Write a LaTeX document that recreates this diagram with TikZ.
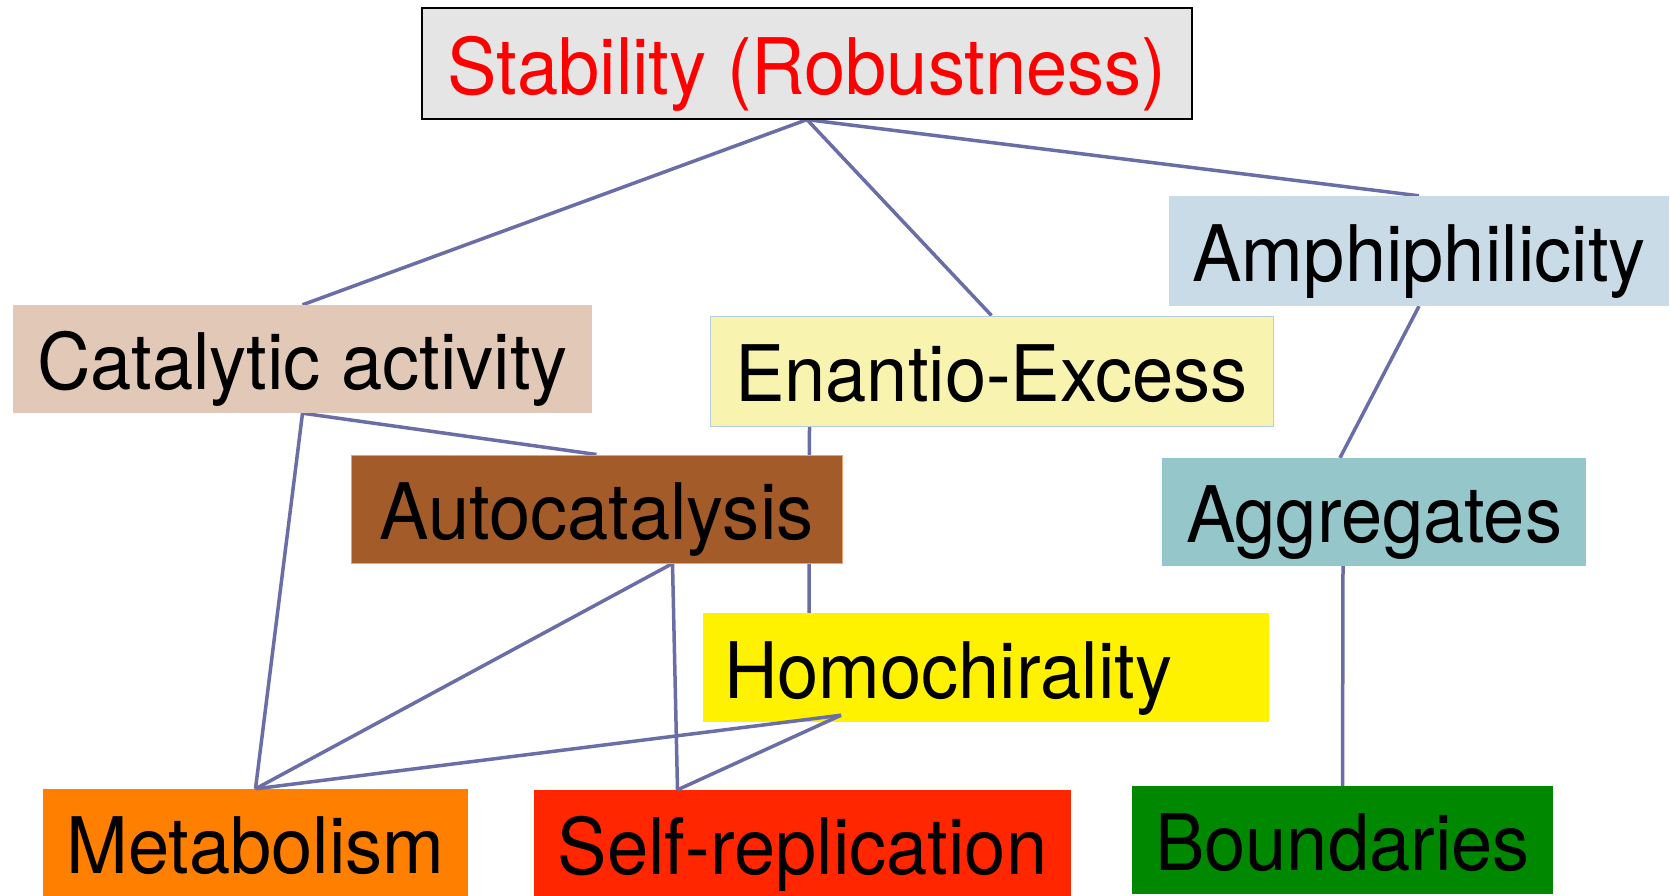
\documentclass[tikz,border=0pt]{standalone}
\usepackage{fontspec}
\newfontfamily\boxfont[FakeStretch=0.95]{TeX Gyre Heros}
\usetikzlibrary{backgrounds}

\definecolor{linkblue}{HTML}{6A6DA6}
\definecolor{stabgray}{HTML}{E5E5E5}
\definecolor{catpeach}{HTML}{E1C8B7}
\definecolor{enanyellow}{HTML}{F8F4B0}
\definecolor{enanline}{HTML}{B5CDE0}
\definecolor{amphblue}{HTML}{C9DBE7}
\definecolor{autobrown}{HTML}{A45B2A}
\definecolor{autoline}{HTML}{F0A070}
\definecolor{aggrteal}{HTML}{95C6CA}
\definecolor{metaorange}{HTML}{FF7F00}
\definecolor{selfred}{HTML}{FF2600}
\definecolor{boundgreen}{HTML}{008800}

\tikzset{
  box/.style={inner sep=0pt, text height=61pt, text depth=0pt,
    font=\boxfont\fontsize{78}{90}\selectfont},
  link/.style={draw=linkblue, line width=3.5pt}
}

\begin{document}
\begin{tikzpicture}[x=1pt, y=-1pt]
    \useasboundingbox (0,0) rectangle (1670,895);

    % Place the boxes
    \node[box, fill=stabgray, draw=black, line width=1.2pt, text=red,
          minimum width=770, minimum height=111] (stab) at (807,63.5) {Stability (Robustness)};
    \node[box, fill=catpeach, minimum width=579, minimum height=108] (cat) at (302.5,359) {Catalytic activity};
    \node[box, fill=enanyellow, draw=enanline, line width=1pt,
          minimum width=563, minimum height=110] (enan) at (991.5,371) {Enantio-Excess};
    \node[box, fill=amphblue, minimum width=500, minimum height=110] (amph) at (1419,251) {Amphiphilicity};
    \node[box, fill=autobrown, draw=autoline, line width=1pt,
          minimum width=491, minimum height=108] (auto) at (596.5,509) {Autocatalysis};
    \node[box, fill=aggrteal, minimum width=424, minimum height=108] (aggr) at (1374,512) {Aggregates};
    \node[box, fill=yellow, inner xsep=21pt, text width=524pt, align=left,
          minimum height=109] (homo) at (986,667.5) {Homochirality};
    \node[box, fill=metaorange, minimum width=425, minimum height=108] (meta) at (255.5,843) {Metabolism};
    \node[box, fill=selfred, minimum width=537, minimum height=108] (selfrep) at (802.5,844) {Self-replication};
    \node[box, fill=boundgreen, minimum width=421, minimum height=108] (bound) at (1342.5,840) {Boundaries};

    % Draw the links behind the boxes
    \begin{scope}[on background layer]
        \draw[link] (stab.south) -- (cat.north);
        \draw[link] (stab.south) -- (enan.north);
        \draw[link] (stab.south) -- (amph.north);
        \draw[link] (cat.south) -- (auto.north);
        \draw[link] (cat.south) -- (meta.north);
        \draw[link] ([xshift=-182pt]enan.south) -- ([xshift=-177pt]homo.north);
        \draw[link] ([xshift=76pt]auto.south) -- (meta.north);
        \draw[link] ([xshift=76pt]auto.south) -- ([xshift=-125pt]selfrep.north);
        \draw[link] (amph.south) -- ([xshift=-34pt]aggr.north);
        \draw[link] ([xshift=-31pt]aggr.south) -- (bound.north);
    \end{scope}

    % The Homochirality links start inside its box
    \draw[link] ([xshift=-145pt, yshift=7pt]homo.south) -- (meta.north);
    \draw[link] ([xshift=-145pt, yshift=7pt]homo.south) -- ([xshift=-125pt]selfrep.north);
\end{tikzpicture}
\end{document}
